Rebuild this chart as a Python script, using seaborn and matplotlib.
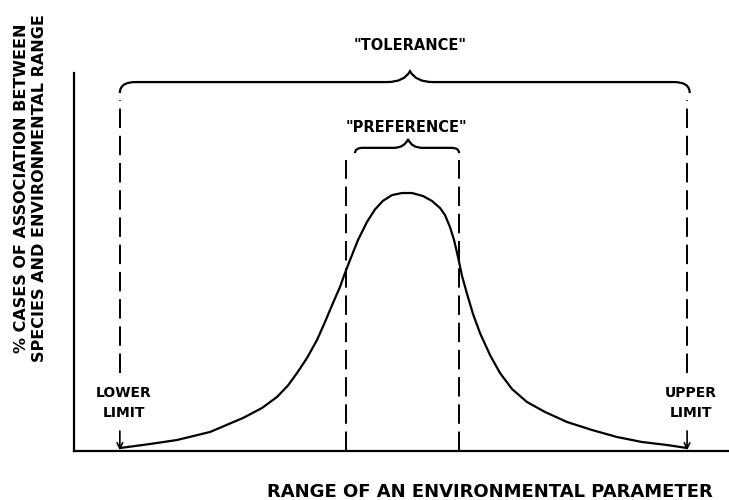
import numpy as np
import pandas as pd
import matplotlib
matplotlib.use("Agg")
import matplotlib.pyplot as plt
from matplotlib.path import Path
from matplotlib.patches import PathPatch
import seaborn as sns

curve_x = [7.02, 11.60, 15.73, 20.76, 25.80, 28.70, 30.99, 32.67, 34.05, 35.57,
           37.10, 38.32, 39.54, 40.61, 41.37, 42.14, 43.36, 44.73, 45.95, 47.18,
           48.55, 50.08, 51.60, 53.28, 54.66, 55.88, 56.64, 57.40, 58.02, 58.63,
           59.24, 60.00, 60.92, 61.98, 63.51, 65.04, 66.87, 69.16, 71.91, 75.27,
           79.08, 82.90, 86.72, 90.53, 93.59]
curve_y = [0.79, 1.85, 2.91, 5.03, 8.73, 11.38, 14.29, 17.33, 20.63, 24.60,
           29.37, 34.13, 39.15, 43.39, 47.09, 50.53, 55.82, 60.60, 63.90, 66.20,
           67.70, 68.25, 68.25, 67.46, 66.14, 64.29, 62.43, 59.26, 55.82, 51.32,
           46.30, 41.60, 36.24, 31.22, 25.40, 20.63, 16.40, 12.96, 10.32, 7.67,
           5.56, 3.70, 2.38, 1.59, 0.79]

lower_limit = 7.0
upper_limit = 93.6
pref_low = 41.5
pref_high = 58.8

x_label = "RANGE OF AN ENVIRONMENTAL PARAMETER"
y_label = "% CASES OF ASSOCIATION BETWEEN\nSPECIES AND ENVIRONMENTAL RANGE"

df = pd.DataFrame({"x": curve_x, "y": curve_y})

sns.set_style("white")
plt.rcParams["font.family"] = ["DejaVu Sans"]
plt.rcParams["text.color"] = "black"

fig = plt.figure(figsize=(7.29, 5.0), dpi=100)
ax = fig.add_axes([74 / 729, 49 / 500, 655 / 729, 378 / 500])

sns.lineplot(data=df, x="x", y="y", sort=False, estimator=None,
             color="black", linewidth=1.6, ax=ax)
ax.lines[0].set_solid_joinstyle("round")

# lignes pointillées (tolérance et préférence)
dash = (0, (10, 4))
for xv in [lower_limit, upper_limit]:
    ax.plot([xv, xv], [20.6, 92.8], color="black", lw=1.4, linestyle=dash)
for xv in [pref_low, pref_high]:
    ax.plot([xv, xv], [0, 77.0], color="black", lw=1.4, linestyle=dash)


def accolade(x0, x1, xm, y_end, y_base, y_tip, r, w):
    verts = [(x0, y_end), (x0, y_base), (x0 + r, y_base),
             (xm - w, y_base),
             (xm - w * 0.25, y_base), (xm, y_tip),
             (xm + w * 0.25, y_base), (xm + w, y_base),
             (x1 - r, y_base),
             (x1, y_base), (x1, y_end)]
    codes = [Path.MOVETO, Path.CURVE3, Path.CURVE3,
             Path.LINETO,
             Path.CURVE3, Path.CURVE3,
             Path.CURVE3, Path.CURVE3,
             Path.LINETO,
             Path.CURVE3, Path.CURVE3]
    patch = PathPatch(Path(verts, codes), facecolor="none", edgecolor="black",
                      lw=1.6, clip_on=False)
    ax.add_patch(patch)


accolade(lower_limit, upper_limit + 0.4, 51.3, 94.7, 97.6, 100.5, 2.4, 3.5)
accolade(42.9, pref_high, 51.0, 78.8, 80.2, 82.5, 1.2, 2.2)

ax.text(51.3, 107.4, '"TOLERANCE"', ha="center", va="center", fontsize=10.5,
        fontweight="bold")
ax.text(50.8, 85.7, '"PREFERENCE"', ha="center", va="center", fontsize=10.5,
        fontweight="bold")

# limites avec flèches
for xv, txt in [(lower_limit, "LOWER\nLIMIT"), (upper_limit, "UPPER\nLIMIT")]:
    ax.text(xv + 0.6, 12.7, txt, ha="center", va="center", fontsize=10,
            linespacing=1.6, fontweight="bold")
    ax.annotate("", xy=(xv, 0.2), xytext=(xv, 5.3),
                arrowprops=dict(arrowstyle="->", color="black", lw=1.2,
                                shrinkA=0, shrinkB=0))

ax.set_xlim(0, 100)
ax.set_ylim(0, 100)
ax.set_xticks([])
ax.set_yticks([])
ax.set_xlabel("")
ax.set_ylabel("")
sns.despine(ax=ax)
for s in ["left", "bottom"]:
    ax.spines[s].set_color("black")
    ax.spines[s].set_linewidth(1.6)

fig.text(490 / 729, 1 - 492 / 500, x_label, ha="center", va="center",
         fontsize=13, fontweight="bold")
fig.text(31 / 729, 1 - 188 / 500, y_label, ha="center", va="center",
         rotation=90, fontsize=11.5, linespacing=1.25, multialignment="center",
         fontweight="bold")

fig.savefig("out.png", dpi=100, facecolor="white")
